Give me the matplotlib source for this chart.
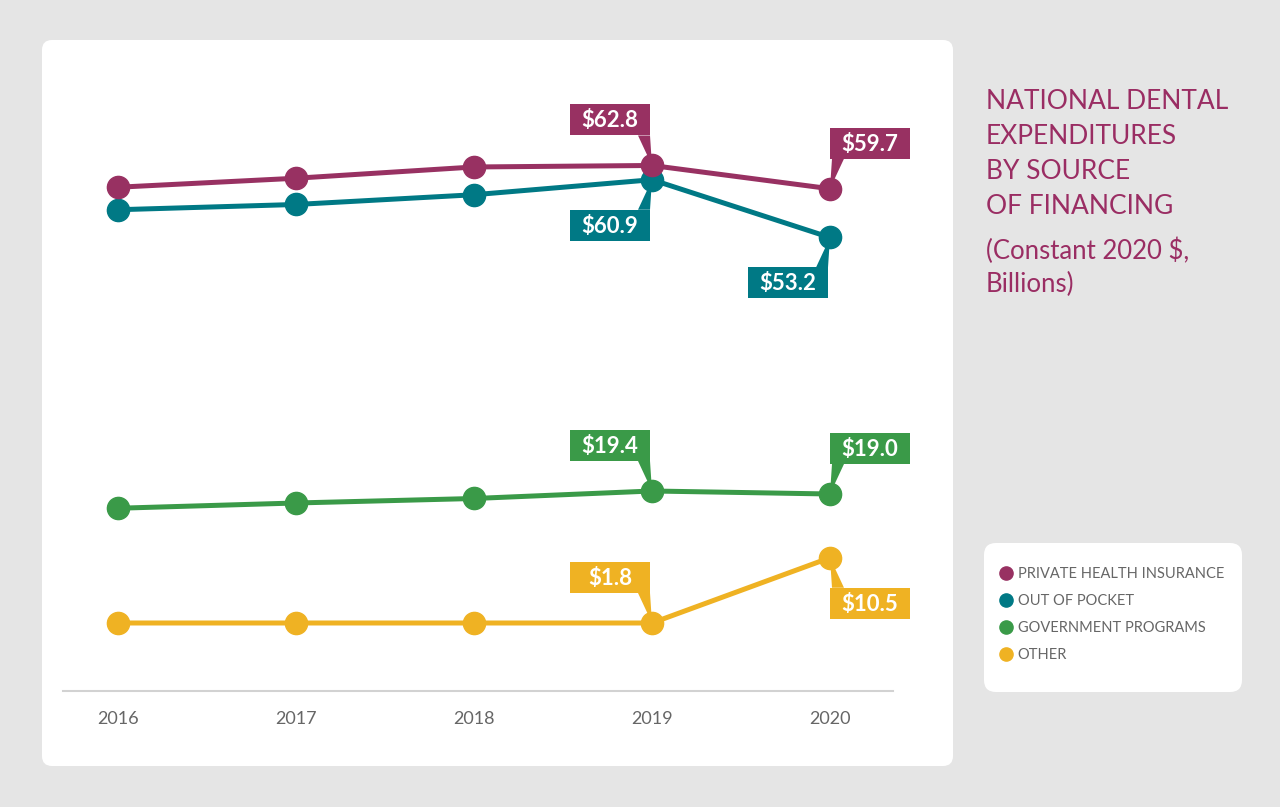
import matplotlib
matplotlib.use('Agg')
import matplotlib.pyplot as plt
from matplotlib.patches import FancyBboxPatch, Rectangle, Polygon
from matplotlib.lines import Line2D
from matplotlib.transforms import Affine2D, ScaledTranslation

plt.rcParams['font.family'] = ['Lato', 'DejaVu Sans']

# ---------------- data ----------------
years = [2016, 2017, 2018, 2019, 2020]
private_insurance = [59.9, 61.1, 62.6, 62.8, 59.7]
out_of_pocket = [56.9, 57.6, 58.9, 60.9, 53.2]
government_programs = [17.1, 17.8, 18.4, 19.4, 19.0]
other = [1.8, 1.8, 1.8, 1.8, 10.5]
series_names = ['PRIVATE HEALTH INSURANCE', 'OUT OF POCKET',
                'GOVERNMENT PROGRAMS', 'OTHER']
title_lines = ['NATIONAL DENTAL', 'EXPENDITURES', 'BY SOURCE', 'OF FINANCING']
subtitle_lines = ['(Constant 2020 $,', 'Billions)']

series = [private_insurance, out_of_pocket, government_programs, other]
colors = ['#983162', '#007985', '#3a9a48', '#efb223']

# which points carry a value callout: (series, year index, horizontal side, vertical side)
callouts = [(0, 3, -1, 1), (0, 4, 1, 1),
            (1, 3, -1, -1), (1, 4, -1, -1),
            (2, 3, -1, 1), (2, 4, 1, 1),
            (3, 3, -1, 1), (3, 4, 1, -1)]

# ---------------- figure ----------------
W, H = 1280, 807
fig = plt.figure(figsize=(W / 100, H / 100), dpi=100)
fig.patch.set_facecolor('#e5e5e5')

bg = fig.add_axes([0, 0, 1, 1], zorder=0)
bg.set_xlim(0, W)
bg.set_ylim(H, 0)
bg.axis('off')
bg.add_patch(FancyBboxPatch((42, 40), 911, 726,
                            boxstyle='round,pad=0,rounding_size=10',
                            fc='white', ec='none'))
bg.add_patch(FancyBboxPatch((984, 543), 258, 149,
                            boxstyle='round,pad=0,rounding_size=12',
                            fc='white', ec='none'))

ax = fig.add_axes([63 / W, 1 - 690.5 / H, (893 - 63) / W, (690.5 - 100) / H],
                  zorder=2)
ax.set_facecolor('none')
ax.set_xlim(2016 - 55 / 178, 2020 + 63 / 178)
ax.set_ylim(-7.2, 71.53)

for sp in ['top', 'right', 'left']:
    ax.spines[sp].set_visible(False)
ax.spines['bottom'].set_color('#d2d2d2')
ax.spines['bottom'].set_linewidth(1.5)
ax.set_yticks([])
ax.set_xticks(years)
ax.set_xticklabels([str(y) for y in years])
ax.tick_params(axis='x', length=0, pad=14.5, labelsize=13, labelcolor='#666666')

# lines (draw private last so it sits on top)
for idx in [3, 2, 1, 0]:
    ax.plot(years, series[idx], color=colors[idx], lw=3.6, marker='o',
            markersize=16, solid_capstyle='round', zorder=3 + (3 - idx) * 0.1)

# callouts
BW, BH, GAP = 80, 31, 30
for si, yi, sx, sy in callouts:
    xv = years[yi]
    yv = series[si][yi]
    t = Affine2D() + ScaledTranslation(xv, yv, ax.transData)
    x0 = -BW - 2 if sx < 0 else 0
    y0 = GAP if sy > 0 else -GAP - BH
    ax.add_patch(Rectangle((x0, y0), BW, BH, transform=t, fc=colors[si],
                           ec='none', zorder=6, clip_on=False))
    ey = GAP if sy > 0 else -GAP
    if sx < 0:
        tail = [(-14, ey), (-2, ey), (0, 0)]
    else:
        tail = [(2, ey), (14, ey), (0, 0)]
    ax.add_patch(Polygon(tail, closed=True, transform=t, fc=colors[si],
                         ec='none', zorder=6, clip_on=False))
    ax.text(x0 + BW / 2, y0 + BH / 2 - 1, f'${yv:.1f}', transform=t,
            ha='center', va='center', color='white', fontsize=16,
            fontweight='bold', zorder=7, clip_on=False)

# title
title_color = '#9a2d63'
for i, line in enumerate(title_lines):
    fig.text(986 / W, 1 - (109 + i * 35) / H, line, color=title_color,
             fontsize=19, ha='left', va='baseline')
for i, line in enumerate(subtitle_lines):
    fig.text(986 / W, 1 - (259 + i * 33) / H, line, color=title_color,
             fontsize=18.5, ha='left', va='baseline')

# legend
handles = [Line2D([], [], ls='none', marker='o', markersize=9.5, color=c)
           for c in colors]
fig.legend(handles, series_names, loc='upper left',
           bbox_to_anchor=(1000 / W, 1 - 567 / H), frameon=False,
           borderpad=0, borderaxespad=0, handlelength=0.8,
           handletextpad=0.4, labelspacing=0.9,
           prop={'size': 10.5}, labelcolor='#666666')

fig.savefig('out.png', dpi=100, facecolor=fig.get_facecolor())
